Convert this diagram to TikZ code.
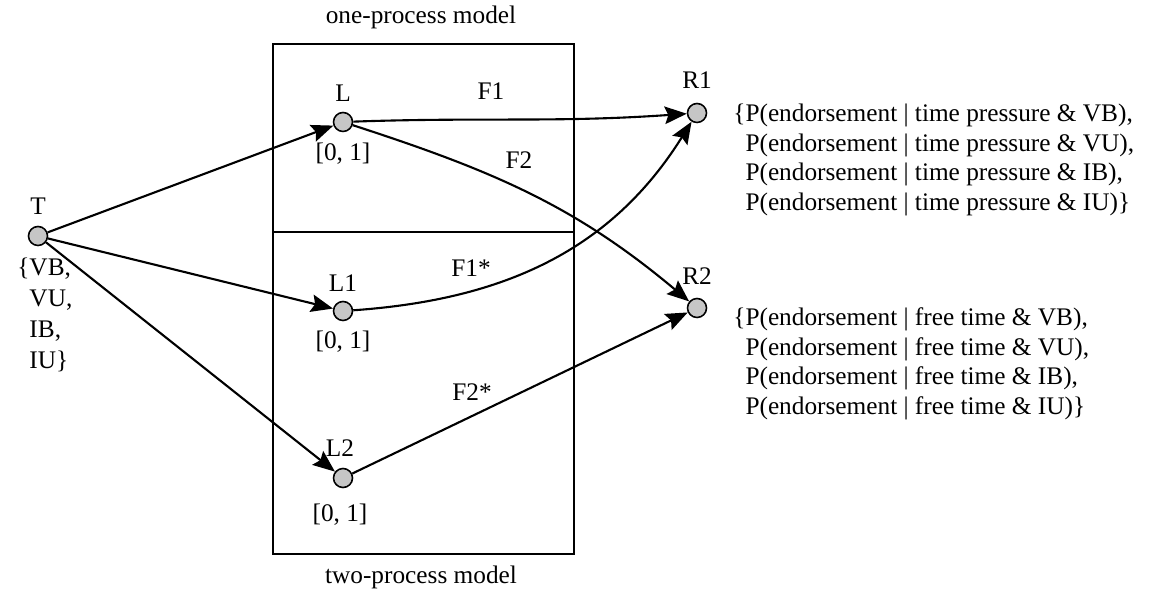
\documentclass[tikz,border=0pt]{standalone}
\usepackage{fontspec}
\setmainfont{Liberation Serif}
\usetikzlibrary{arrows.meta}
\begin{document}
\begin{tikzpicture}[x=0.02cm,y=-0.02cm,
  every node/.style={font=\fontsize{14.4}{16.8}\selectfont},
  state/.style={circle,draw,line width=0.9pt,fill=gray!45,minimum size=0.38cm,inner sep=0pt},
  link/.style={line width=1.2pt,-{Stealth[length=12.5pt,width=10pt,inset=2pt]}}]
  \useasboundingbox (0,0) rectangle (1158,590);
  % model boxes
  \draw[line width=1.5pt] (273,44) rectangle (574,554);
  \draw[line width=1.5pt] (273,232) -- (574,232);
  \node (onelab) at (421,17) {one-process model};
  \node (twolab) at (421,577) {two-process model};
  % states
  \node[state] (T) at (38,236) {};
  \node[state] (L) at (343,122) {};
  \node[state] (L1) at (343,311) {};
  \node[state] (L2) at (343,478) {};
  \node[state] (R1) at (697,113) {};
  \node[state] (R2) at (697,308) {};
  % labels
  \node (Tlab) at (38,206) {T};
  \node (Llab) at (343,93) {L};
  \node (L1lab) at (343,283) {L1};
  \node (L2lab) at (340,448) {L2};
  \node (R1lab) at (697,80) {R1};
  \node (R2lab) at (697,276) {R2};
  \node (Lrange) at (343,154) {[0, 1]};
  \node (L1range) at (343,342) {[0, 1]};
  \node (L2range) at (340,515) {[0, 1]};
  \node[anchor=west,align=left,inner sep=0pt,font=\fontsize{14.4}{17.8}\selectfont] (Tset) at (17,315)
    {\{VB,\\\hphantom{\{}VU,\\\hphantom{\{}IB,\\\hphantom{\{}IU\}};
  \node[anchor=west,align=left,inner sep=0pt] (R1set) at (733,160)
    {\{P(endorsement | time pressure \& VB),\\
     \hphantom{\{}P(endorsement | time pressure \& VU),\\
     \hphantom{\{}P(endorsement | time pressure \& IB),\\
     \hphantom{\{}P(endorsement | time pressure \& IU)\}};
  \node[anchor=west,align=left,inner sep=0pt] (R2set) at (733,364)
    {\{P(endorsement | free time \& VB),\\
     \hphantom{\{}P(endorsement | free time \& VU),\\
     \hphantom{\{}P(endorsement | free time \& IB),\\
     \hphantom{\{}P(endorsement | free time \& IU)\}};
  % connectors
  \draw[link] (T) -- (L);
  \draw[link] (T) -- (L1);
  \draw[link] (T) -- (L2);
  \draw[link] (L) to[out=2,in=184] (R1);
  \node (F1) at (491,91) {F1};
  \draw[link] (L) to[out=-18,in=140] (R2);
  \node (F2) at (519,160) {F2};
  \draw[link] (L1) to[out=4,in=-122] (R1);
  \node (F1s) at (471,268) {F1*};
  \draw[link] (L2) -- (R2);
  \node (F2s) at (472,392) {F2*};
\end{tikzpicture}
\end{document}
